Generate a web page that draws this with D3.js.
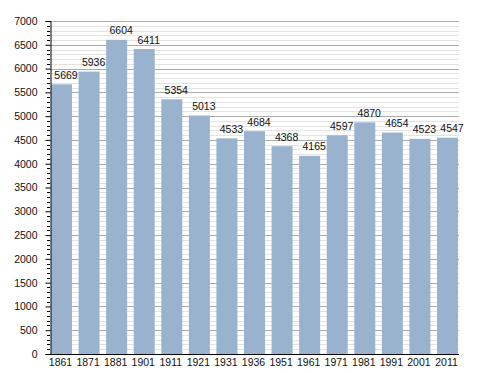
<!DOCTYPE html>
<html><head><meta charset="utf-8">
<script src="https://cdn.jsdelivr.net/npm/d3@7"></script>
<style>body{margin:0;background:#fff}svg{display:block}text{font-family:"Liberation Sans",Arial,sans-serif;fill:#111}</style>
</head><body>
<script>
const years = ["1861","1871","1881","1901","1911","1921","1931","1936","1951","1961","1971","1981","1991","2001","2011"];
const population = [5669,5936,6604,6411,5354,5013,4533,4684,4368,4165,4597,4870,4654,4523,4547];
const yTicks = [0,500,1000,1500,2000,2500,3000,3500,4000,4500,5000,5500,6000,6500,7000];

(function () {
const W = 488, H = 373;
const mLeft = 50, mRight = 459, mTop = 21, mBottom = 354;
const svg = d3.select("body").append("svg").attr("width", W).attr("height", H);

const y = d3.scaleLinear().domain([0, 7000]).range([mBottom, mTop]);
const x = d3.scaleBand().domain(years).range([51, 458]).paddingInner(0.238).paddingOuter(0);

const minor = d3.range(0, 7001, 100).filter(v => v % 500 !== 0);
svg.append("g").selectAll("line").data(minor).join("line")
  .attr("x1", mLeft).attr("x2", mRight)
  .attr("y1", d => Math.round(y(d)) + 0.5).attr("y2", d => Math.round(y(d)) + 0.5)
  .attr("stroke", "#e3e3e3").attr("stroke-width", 1);
svg.append("g").selectAll("line").data(yTicks.filter(v => v > 0)).join("line")
  .attr("x1", mLeft).attr("x2", mRight)
  .attr("y1", d => Math.round(y(d)) + 0.5).attr("y2", d => Math.round(y(d)) + 0.5)
  .attr("stroke", "#ababab").attr("stroke-width", 1);

svg.append("g").selectAll("rect").data(population).join("rect")
  .attr("x", (d, i) => x(years[i]))
  .attr("width", x.bandwidth())
  .attr("y", d => y(d))
  .attr("height", d => mBottom - y(d))
  .attr("fill", "#99b3cf");

svg.append("g").selectAll("text").data(population).join("text")
  .attr("x", (d, i) => x(years[i]) + x.bandwidth() / 2 + 4.5)
  .attr("y", d => y(d) - 5.5)
  .attr("text-anchor", "middle")
  .attr("font-size", "10.5px")
  .text(d => d);

// y axis
const yAxis = d3.axisLeft(y).tickValues(yTicks).tickSize(5).tickPadding(8).tickFormat(d3.format("d"));
const gy = svg.append("g").attr("transform", `translate(${mLeft + 0.5},0)`).call(yAxis);
gy.select(".domain").attr("stroke", "#000");
gy.selectAll(".tick line").attr("stroke", "#000");
gy.selectAll(".tick text").attr("font-size", "10.5px").attr("font-family", "Liberation Sans, Arial, sans-serif").attr("fill", "#111");
svg.append("g").selectAll("line").data(minor).join("line")
  .attr("x1", mLeft - 3).attr("x2", mLeft)
  .attr("y1", d => Math.round(y(d)) + 0.5).attr("y2", d => Math.round(y(d)) + 0.5)
  .attr("stroke", "#000");

// x axis
const xAxis = d3.axisBottom(x).tickSize(0).tickPadding(4);
const gx = svg.append("g").attr("transform", `translate(0,${mBottom + 0.5})`).call(xAxis);
gx.select(".domain").remove();
svg.append("line").attr("x1", mLeft).attr("x2", mRight).attr("y1", mBottom + 0.5).attr("y2", mBottom + 0.5).attr("stroke", "#000");
gx.selectAll(".tick text").attr("font-size", "10.5px").attr("font-family", "Liberation Sans, Arial, sans-serif").attr("fill", "#111").attr("dx", "-1");
})();
</script>
</body></html>
